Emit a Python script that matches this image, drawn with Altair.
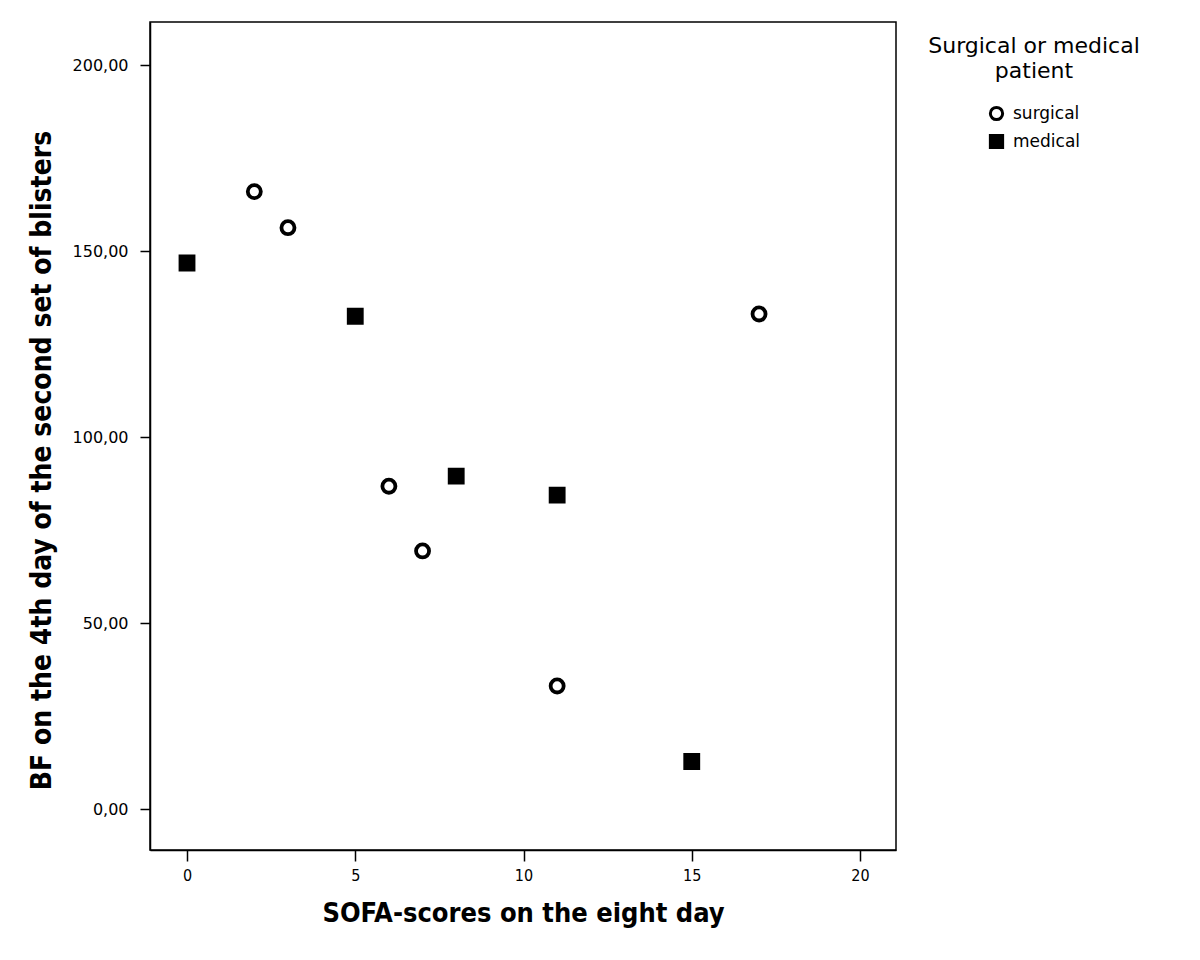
import altair as alt
import pandas as pd

sofa = [2, 3, 6, 7, 11, 17, 0, 5, 8, 11, 15]
bf = [166.0, 156.3, 86.8, 69.4, 33.1, 133.1, 146.8, 132.5, 89.5, 84.4, 12.8]
group = ["surgical"] * 6 + ["medical"] * 5

df = pd.DataFrame({"sofa": sofa, "bf": bf, "group": group})

legend_title = ["Surgical or medical", "patient"]
groups = ["surgical", "medical"]

tick_font = "DejaVu Sans"
narrow_bold = "DejaVu Sans Condensed, Liberation Sans Narrow, Arial Narrow, Liberation Sans"

legend_common = dict(
    title=legend_title,
    symbolStrokeWidth=3, symbolSize=150,
)

chart = alt.Chart(df).mark_point(
    size=170, strokeWidth=3.8, opacity=1
).encode(
    x=alt.X("sofa:Q",
            scale=alt.Scale(domain=[-1.1, 21.07], nice=False, zero=False),
            axis=alt.Axis(values=[0, 5, 10, 15, 20], title="SOFA-scores on the eight day",
                          grid=False, domainColor="black", tickColor="black",
                          tickSize=11, tickWidth=1.5, domainWidth=1.5,
                          labelFont=narrow_bold, labelFontSize=16, labelColor="black",
                          labelPadding=6,
                          titleFont=narrow_bold, titleFontSize=27, titleFontWeight="bold",
                          titleColor="black", titleY=63, titleBaseline="middle")),
    y=alt.Y("bf:Q",
            scale=alt.Scale(domain=[-11, 211.6], nice=False, zero=False),
            axis=alt.Axis(values=[0, 50, 100, 150, 200],
                          title="BF on the 4th day of the second set of blisters",
                          labelExpr="replace(format(datum.value, '.2f'), '.', ',')",
                          grid=False, domainColor="black", tickColor="black",
                          tickSize=10, tickWidth=1.5, domainWidth=1.5,
                          labelFont=tick_font, labelFontSize=16, labelColor="black",
                          labelPadding=12,
                          titleFont=narrow_bold, titleFontSize=28, titleFontWeight="bold",
                          titleColor="black", titleX=-108, titleY=438,
                          titleBaseline="middle")),
    shape=alt.Shape("group:N", sort=groups,
                    scale=alt.Scale(domain=groups, range=["circle", "square"]),
                    legend=alt.Legend(**legend_common)),
    fill=alt.Fill("group:N", sort=groups,
                  scale=alt.Scale(domain=groups, range=["white", "black"]),
                  legend=alt.Legend(**legend_common)),
    stroke=alt.Stroke("group:N", sort=groups,
                      scale=alt.Scale(domain=groups, range=["black", "black"]),
                      legend=alt.Legend(**legend_common)),
).properties(
    width=746, height=828,
    autosize=alt.AutoSizeParams(type="none"),
    padding={"left": 142, "top": 14, "right": 290, "bottom": 100},
).configure_view(
    stroke="black", strokeWidth=1.5
).configure_legend(
    orient="none", legendX=778, legendY=14,
    titleFont=tick_font, titleFontSize=22, titleFontWeight="normal", titleColor="black",
    titleAlign="center", titleAnchor="middle", titleLimit=400, titleLineHeight=25,
    labelFont=tick_font, labelFontSize=17, labelColor="black", labelOffset=8,
    symbolOffset=0, rowPadding=3, titlePadding=22
)

chart.save("out.html", embed_options={"renderer": "svg", "actions": False})
